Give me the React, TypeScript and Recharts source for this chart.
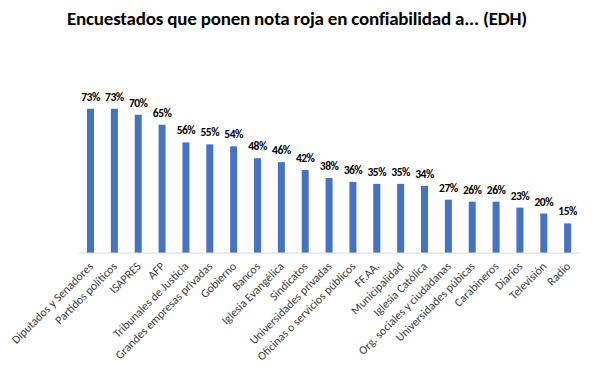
import React from 'react';
import { BarChart, Bar, XAxis, YAxis, LabelList } from 'recharts';

/* ---------- DATA ---------- */
const institutions = [
  'Diputados y Senadores',
  'Partidos políticos',
  'ISAPRES',
  'AFP',
  'Tribunales de Justicia',
  'Grandes empresas privadas',
  'Gobierno',
  'Bancos',
  'Iglesia Evangélica',
  'Sindicatos',
  'Universidades privadas',
  'Oficinas o servicios públicos',
  'FF.AA.',
  'Municipalidad',
  'Iglesia Católica',
  'Org. sociales y ciudadanas',
  'Universidades púbicas',
  'Carabineros',
  'Diarios',
  'Televisión',
  'Radio',
];

const redGradePct = [73, 73, 70, 65, 56, 55, 54, 48, 46, 42, 38, 36, 35, 35, 34, 27, 26, 26, 23, 20, 15];

const chartData = institutions.map((name, i) => ({ name, value: redGradePct[i] }));

const LABEL_FONT = 'Calibri, Carlito, "Open Sans", "Liberation Sans", sans-serif';

// rotated category label, text ends at the tick
const AngledTick = (props: any) => {
  const { x, y, payload } = props;
  return (
    <g transform={`translate(${x + 3},${y + 6})`}>
      <text
        textAnchor="end"
        transform="rotate(-45)"
        fontSize={11.8}
        fill="#404040"
        fontFamily={LABEL_FONT}
      >
        {payload.value}
      </text>
    </g>
  );
};

export default function App() {
  return (
    <div style={{ position: 'relative', width: 594, height: 376, background: '#fff' }}>
      <style>{'body{margin:0}'}</style>
      <div
        style={{
          position: 'absolute',
          top: 7,
          left: 0,
          width: 594,
          textAlign: 'center',
          fontFamily: LABEL_FONT,
          fontWeight: 800,
          fontSize: 19,
          letterSpacing: '-0.2px',
          color: '#000',
        }}
      >
        Encuestados que ponen nota roja en confiabilidad a... (EDH)
      </div>
      <BarChart
        width={594}
        height={376}
        data={chartData}
        margin={{ top: 95, right: 14, left: 79, bottom: 0 }}
        barCategoryGap="35%"
      >
        <XAxis
          dataKey="name"
          interval={0}
          tick={<AngledTick />}
          tickLine={false}
          axisLine={{ stroke: '#d9d9d9' }}
          height={123}
        />
        <YAxis hide domain={[0, 80]} />
        <Bar dataKey="value" fill="#4472C4" barSize={7} isAnimationActive={false}>
          <LabelList
            dataKey="value"
            position="top"
            offset={8}
            formatter={(v: any) => `${v}%`}
            style={{
              fontSize: 11.5,
              fontWeight: 700,
              fill: '#000',
              fontFamily: LABEL_FONT,
              letterSpacing: '-0.5px',
            }}
          />
        </Bar>
      </BarChart>
    </div>
  );
}
